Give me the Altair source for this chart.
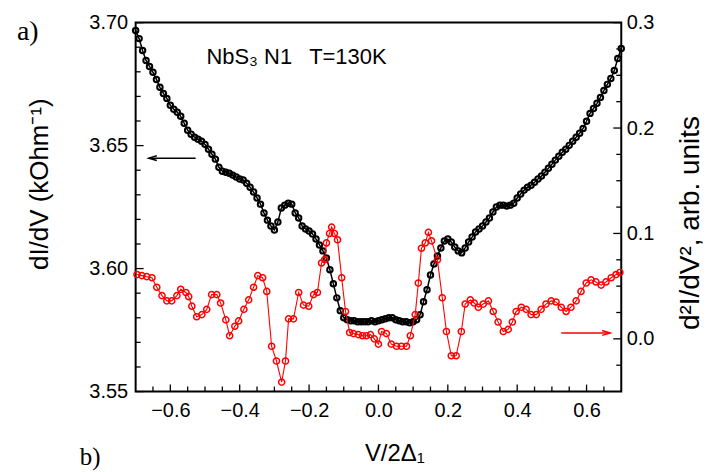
import altair as alt
import pandas as pd

# ---------------- data ----------------
bias_black = [-0.70, -0.69, -0.68, -0.67, -0.66, -0.65, -0.64, -0.63, -0.62, -0.61,
              -0.60, -0.59, -0.58, -0.57, -0.56, -0.55, -0.54, -0.53, -0.52, -0.51,
              -0.50, -0.49, -0.48, -0.47, -0.46, -0.45, -0.44, -0.43, -0.42, -0.41,
              -0.40, -0.39, -0.38, -0.37, -0.36, -0.35, -0.34, -0.33, -0.32, -0.31,
              -0.30, -0.29, -0.28, -0.27, -0.26, -0.25, -0.24, -0.23, -0.22, -0.21,
              -0.20, -0.19, -0.18, -0.17, -0.16, -0.15, -0.14, -0.13, -0.12, -0.11,
              -0.10, -0.09, -0.08, -0.07, -0.06, -0.05, -0.04, -0.03, -0.02, -0.01,
              0.00, 0.01, 0.02, 0.03, 0.04, 0.05, 0.06, 0.07, 0.08, 0.09,
              0.10, 0.11, 0.12, 0.13, 0.14, 0.15, 0.16, 0.17, 0.18, 0.19,
              0.20, 0.21, 0.22, 0.23, 0.24, 0.25, 0.26, 0.27, 0.28, 0.29,
              0.30, 0.31, 0.32, 0.33, 0.34, 0.35, 0.36, 0.37, 0.38, 0.39,
              0.40, 0.41, 0.42, 0.43, 0.44, 0.45, 0.46, 0.47, 0.48, 0.49,
              0.50, 0.51, 0.52, 0.53, 0.54, 0.55, 0.56, 0.57, 0.58, 0.59,
              0.60, 0.61, 0.62, 0.63, 0.64, 0.65, 0.66, 0.67, 0.68, 0.69, 0.70]
didv_black = [3.6968, 3.6935, 3.6887, 3.6846, 3.6822, 3.6798, 3.6769, 3.6737, 3.6712, 3.6692,
              3.6664, 3.6648, 3.6636, 3.6619, 3.6591, 3.6562, 3.6546, 3.6534, 3.6526, 3.6518,
              3.6505, 3.6485, 3.6465, 3.6445, 3.6412, 3.6396, 3.6392, 3.6388, 3.6380, 3.6372,
              3.6364, 3.6360, 3.6347, 3.6331, 3.6311, 3.6287, 3.6262, 3.6226, 3.6197, 3.6173,
              3.6157, 3.6189, 3.6246, 3.6258, 3.6266, 3.6262, 3.6226, 3.6206, 3.6173, 3.6161,
              3.6153, 3.6141, 3.6120, 3.6096, 3.6072, 3.6043, 3.5995, 3.5938, 3.5881, 3.5829,
              3.5800, 3.5792, 3.5788, 3.5788, 3.5784, 3.5784, 3.5784, 3.5784, 3.5788, 3.5784,
              3.5788, 3.5792, 3.5796, 3.5800, 3.5800, 3.5792, 3.5788, 3.5784, 3.5784, 3.5780,
              3.5784, 3.5792, 3.5812, 3.5865, 3.5914, 3.5974, 3.6019, 3.6051, 3.6084, 3.6112,
              3.6120, 3.6108, 3.6088, 3.6072, 3.6064, 3.6084, 3.6108, 3.6128, 3.6149, 3.6161,
              3.6173, 3.6189, 3.6206, 3.6230, 3.6250, 3.6258, 3.6258, 3.6254, 3.6258, 3.6266,
              3.6287, 3.6303, 3.6319, 3.6331, 3.6339, 3.6351, 3.6364, 3.6376, 3.6392, 3.6408,
              3.6424, 3.6441, 3.6457, 3.6473, 3.6485, 3.6501, 3.6518, 3.6534, 3.6550, 3.6570,
              3.6599, 3.6631, 3.6651, 3.6672, 3.6696, 3.6724, 3.6749, 3.6773, 3.6805, 3.6854, 3.6895]

bias_red = [-0.696, -0.682, -0.668, -0.653, -0.639, -0.624, -0.610, -0.596, -0.581, -0.570,
            -0.555, -0.547, -0.538, -0.524, -0.509, -0.495, -0.481, -0.466, -0.455, -0.440,
            -0.429, -0.414, -0.403, -0.388, -0.374, -0.360, -0.348, -0.334, -0.322, -0.308,
            -0.294, -0.279, -0.268, -0.259, -0.245, -0.230, -0.216, -0.201, -0.187, -0.176,
            -0.164, -0.155, -0.150, -0.141, -0.135, -0.127, -0.118, -0.106, -0.095, -0.083,
            -0.072, -0.058, -0.046, -0.035, -0.023, -0.012, 0.000, 0.009, 0.023, 0.037,
            0.052, 0.066, 0.081, 0.092, 0.106, 0.115, 0.124, 0.135, 0.144, 0.153,
            0.170, 0.184, 0.196, 0.210, 0.224, 0.239, 0.250, 0.265, 0.276, 0.288,
            0.302, 0.317, 0.331, 0.345, 0.360, 0.374, 0.386, 0.397, 0.412, 0.426,
            0.440, 0.455, 0.469, 0.483, 0.498, 0.512, 0.527, 0.541, 0.555, 0.570,
            0.584, 0.599, 0.613, 0.627, 0.642, 0.656, 0.671, 0.685, 0.696]
d2_red = [0.061, 0.060, 0.059, 0.058, 0.049, 0.041, 0.036, 0.036, 0.041, 0.047,
          0.044, 0.040, 0.031, 0.021, 0.023, 0.028, 0.042, 0.042, 0.034, 0.018,
          0.003, 0.012, 0.017, 0.028, 0.037, 0.049, 0.060, 0.058, 0.045, -0.007,
          -0.021, -0.041, -0.021, 0.019, 0.019, 0.044, 0.032, 0.031, 0.042, 0.044,
          0.072, 0.075, 0.091, 0.100, 0.106, 0.100, 0.094, 0.058, 0.026, 0.006,
          0.005, 0.004, 0.003, 0.003, 0.004, 0.000, -0.005, 0.007, 0.005, -0.005,
          -0.007, -0.007, -0.007, 0.003, 0.023, 0.053, 0.086, 0.091, 0.101, 0.093,
          0.075, 0.039, 0.007, -0.016, -0.016, 0.007, 0.033, 0.037, 0.034, 0.030,
          0.033, 0.036, 0.026, 0.016, 0.007, 0.009, 0.016, 0.026, 0.030, 0.028,
          0.023, 0.023, 0.028, 0.033, 0.036, 0.035, 0.030, 0.026, 0.030, 0.036,
          0.045, 0.053, 0.056, 0.054, 0.051, 0.054, 0.058, 0.061, 0.063]

x_labels = [-0.6, -0.4, -0.2, 0.0, 0.2, 0.4, 0.6]
x_minor = [-0.65, -0.55, -0.5, -0.45, -0.35, -0.3, -0.25, -0.15, -0.1, -0.05,
           0.05, 0.1, 0.15, 0.25, 0.3, 0.35, 0.45, 0.5, 0.55, 0.65]
left_labels = [3.55, 3.60, 3.65, 3.70]
left_minor = [3.56, 3.57, 3.58, 3.59, 3.61, 3.62, 3.63, 3.64, 3.66, 3.67, 3.68, 3.69]
right_labels = [0.0, 0.1, 0.2, 0.3]
right_minor = [-0.025, 0.025, 0.05, 0.075, 0.125, 0.15, 0.175, 0.225, 0.25, 0.275]

black_arrow = {"x": [-0.662], "x2": [-0.527], "y": [3.6449]}
red_arrow = {"x": [0.527], "x2": [0.668], "y": [0.0056]}

# ---------------- chart ----------------
W, H = 487, 370
FONT = "Liberation Sans"


def xs():
    return alt.Scale(domain=[-0.7, 0.7], nice=False, zero=False)


def yl():
    return alt.Scale(domain=[3.55, 3.70], nice=False, zero=False)


def yr():
    return alt.Scale(domain=[-0.05, 0.30], nice=False, zero=False)


dfb = pd.DataFrame({"V": bias_black, "G": didv_black})
dfr = pd.DataFrame({"V": bias_red, "D": d2_red})

lab = dict(ticks=False, domain=False, grid=False, labelFont=FONT, labelFontSize=20,
           labelColor="black", title=None, labelOverlap=False)
x_axis = alt.Axis(values=x_labels, format=".1f", labelPadding=9, orient="bottom", **lab)
l_axis = alt.Axis(values=left_labels, format=".2f", labelPadding=8, orient="left", **lab)
r_axis = alt.Axis(values=right_labels, format=".1f", labelPadding=5, orient="right", **lab)


# tick marks (drawn inward)
def rules_x(vals, length):
    return alt.Chart(pd.DataFrame({"v": vals})).mark_rule(color="black", strokeWidth=1.3).encode(
        x=alt.X("v:Q", scale=xs(), axis=None), y=alt.value(H), y2=alt.value(H - length))


def rules_left(vals, length):
    return alt.Chart(pd.DataFrame({"v": vals})).mark_rule(color="black", strokeWidth=1.3).encode(
        y=alt.Y("v:Q", scale=yl(), axis=None), x=alt.value(0), x2=alt.value(length))


def rules_right(vals, length):
    return alt.Chart(pd.DataFrame({"v": vals})).mark_rule(color="black", strokeWidth=1.3).encode(
        y=alt.Y("v:Q", scale=yr(), axis=None), x=alt.value(W), x2=alt.value(W - length))


black_pts = alt.Chart(dfb).mark_point(color="black", size=30, strokeWidth=2,
                                      filled=False, opacity=1).encode(
    x=alt.X("V:Q", scale=xs(), axis=x_axis), y=alt.Y("G:Q", scale=yl(), axis=l_axis))
black_line = alt.Chart(dfb).mark_line(color="black", strokeWidth=1.5).encode(
    x=alt.X("V:Q", scale=xs(), axis=None), y=alt.Y("G:Q", scale=yl(), axis=None))

red_line = alt.Chart(dfr).mark_line(color="#ff0000", strokeWidth=1.1).encode(
    x=alt.X("V:Q", scale=xs(), axis=None), y=alt.Y("D:Q", scale=yr(), axis=None))
red_pts = alt.Chart(dfr).mark_point(color="#ff0000", size=38, strokeWidth=1.5,
                                    filled=False, opacity=1).encode(
    x=alt.X("V:Q", scale=xs(), axis=None), y=alt.Y("D:Q", scale=yr(), axis=r_axis))

barrow = pd.DataFrame(black_arrow)
b_shaft = alt.Chart(barrow).mark_rule(color="black", strokeWidth=1.5).encode(
    x=alt.X("x:Q", scale=xs(), axis=None), x2="x2:Q", y=alt.Y("y:Q", scale=yl(), axis=None))
b_head = alt.Chart(barrow).mark_point(shape="M 1 -0.6 L -1 0 L 1 0.6", size=64, filled=False,
                                      color="black", strokeWidth=1.5, opacity=1).encode(
    x=alt.X("x:Q", scale=xs(), axis=None), y=alt.Y("y:Q", scale=yl(), axis=None),
    xOffset=alt.value(4))

rarrow = pd.DataFrame(red_arrow)
r_shaft = alt.Chart(rarrow).mark_rule(color="#ff0000", strokeWidth=1.5).encode(
    x=alt.X("x:Q", scale=xs(), axis=None), x2="x2:Q", y=alt.Y("y:Q", scale=yr(), axis=None))
r_head = alt.Chart(rarrow).mark_point(shape="M -1 -0.6 L 1 0 L -1 0.6", size=64, filled=False,
                                      color="#ff0000", strokeWidth=1.5, opacity=1).encode(
    x=alt.X("x2:Q", scale=xs(), axis=None), y=alt.Y("y:Q", scale=yr(), axis=None),
    xOffset=alt.value(-4))


def label(txt, x, y, size, font=FONT, angle=0, align="left", baseline="alphabetic"):
    return alt.Chart(pd.DataFrame({"t": [txt]})).mark_text(
        font=font, fontSize=size, angle=angle, align=align, baseline=baseline, color="black"
    ).encode(text="t:N", x=alt.value(x), y=alt.value(y))


texts = [
    label("a)", -119, 17, 28, font="Liberation Serif"),
    label("b)", -56, 444, 25, font="Liberation Serif"),
    label("NbS\u2083 N1", 71, 41, 22),
    label("T=130K", 174, 41, 22),
    label("dI/dV (kOhm\u207b\u00b9)", -96, 162, 26, angle=270, align="center", baseline="middle"),
    label("d\u00b2I/dV\u00b2, arb. units", 557, 201, 28, angle=270, align="center", baseline="middle"),
    label("V/2\u0394\u2081", 260, 440, 24, align="center"),
]

chart = alt.layer(
    black_pts, black_line, red_pts, red_line,
    rules_x(x_labels, 7), rules_x(x_minor, 5),
    rules_left(left_labels, 8), rules_left(left_minor, 5),
    rules_right(right_labels, 8), rules_right(right_minor, 5),
    b_shaft, b_head, r_shaft, r_head,
    *texts,
).resolve_scale(y="independent").resolve_axis(x="independent", y="independent").properties(
    width=W, height=H,
    padding={"left": 128, "top": 14, "right": 90, "bottom": 80},
    autosize=alt.AutoSizeParams(type="none"),
    background="white",
).configure_view(stroke="black", strokeWidth=2)

chart.save("out.html", embed_options={"renderer": "svg", "actions": False})
